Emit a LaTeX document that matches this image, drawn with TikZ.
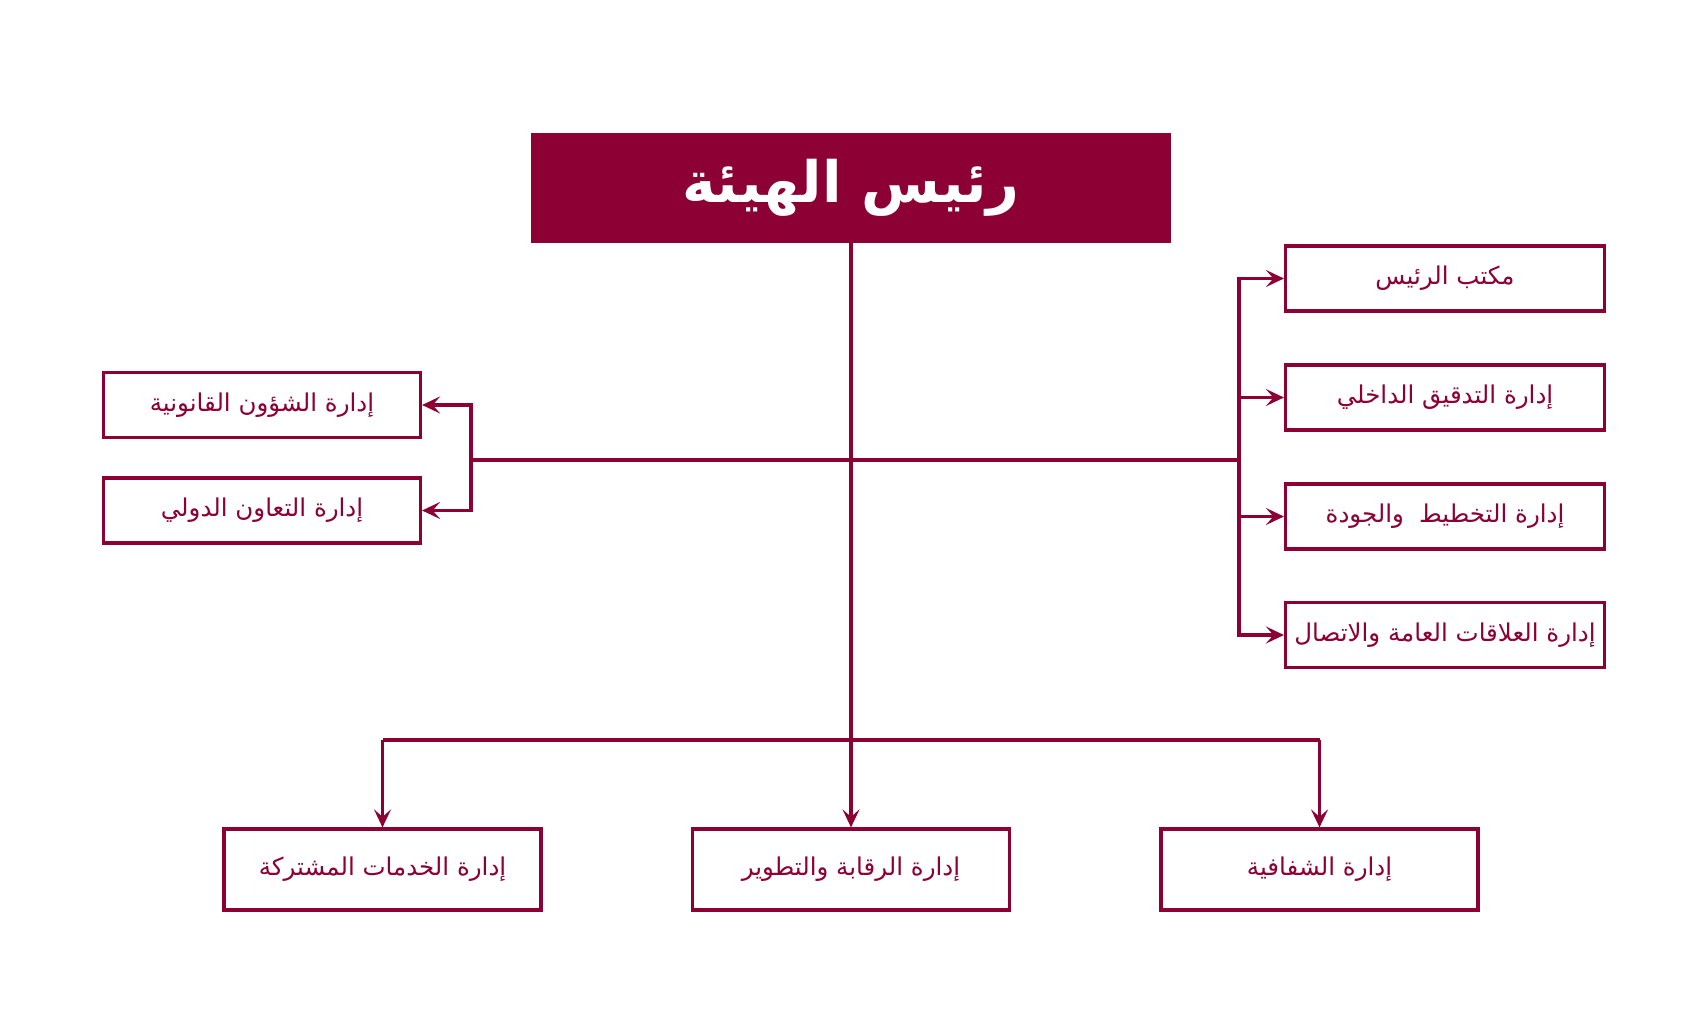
\documentclass[tikz,border=0pt]{standalone}
\usepackage{fontspec}
\usetikzlibrary{arrows.meta}
\TeXXeTstate=1
\newfontfamily\arabicfont[Script=Arabic]{DejaVu Sans}
\newcommand\artxt[1]{{\arabicfont\beginR #1\endR}}
\definecolor{crim}{HTML}{8C0034}
\tikzset{
  box/.style={draw=crim, line width=3.2pt, fill=white, minimum width=319pt, minimum height=65pt,
    inner sep=0pt, text=crim, font=\fontsize{24.5}{28}\selectfont},
  bbox/.style={box, minimum width=317pt, minimum height=81pt},
  titlebox/.style={fill=crim, minimum width=640pt, minimum height=110pt, inner sep=0pt,
    text=white, font=\fontsize{57}{64}\selectfont\bfseries},
  conn/.style={draw=crim, line width=3.4pt},
  bus/.style={draw=crim, line width=4.4pt},
  arr/.style={conn, -{Stealth[length=18pt,width=17pt,inset=7.5pt]}}
}
\begin{document}
\begin{tikzpicture}[x=1pt,y=-1pt]
\fill[white] (0,0) rectangle (1692,1011);
\useasboundingbox (0,0) rectangle (1692,1011);
\node[titlebox] (title) at (851,188) {\artxt{رئيس الهيئة}};
% left
\node[box, minimum width=317pt] (l1) at (262,405) {\artxt{إدارة الشؤون القانونية}};
\node[box, minimum width=317pt] (l2) at (262,510.5) {\artxt{إدارة التعاون الدولي}};
% right
\node[box] (r1) at (1445,278.5) {\artxt{مكتب الرئيس}};
\node[box] (r2) at (1445,397.5) {\artxt{إدارة التدقيق الداخلي}};
\node[box] (r3) at (1445,516.5) {\artxt{إدارة التخطيط\hspace{0.3em} والجودة}};
\node[box] (r4) at (1445,635) {\artxt{إدارة العلاقات العامة والاتصال}};
% bottom
\node[bbox] (b1) at (382.5,869.5) {\artxt{إدارة الخدمات المشتركة}};
\node[bbox] (b2) at (851,869.5) {\artxt{إدارة الرقابة والتطوير}};
\node[bbox] (b3) at (1319.5,869.5) {\artxt{إدارة الشفافية}};
% junctions
\coordinate (lj) at (471,460);
\coordinate (rj) at (1239,460);
\coordinate (bj) at (851,740);
% trunk
\draw[arr] (title.south) -- (b2.north);
% middle bus
\draw[bus] (lj) -- (rj);
\draw[arr] (lj) |- (l1.east);
\draw[arr] (lj) |- (l2.east);
\draw[arr] (rj) |- (r1.west);
\draw[arr] (rj) |- (r2.west);
\draw[arr] (rj) |- (r3.west);
\draw[arr] (rj) |- (r4.west);
% bottom bus
\draw[bus] (b1.north |- bj) -- (b3.north |- bj);
\draw[arr] (b1.north |- bj) -- (b1.north);
\draw[arr] (b3.north |- bj) -- (b3.north);
\end{tikzpicture}
\end{document}
